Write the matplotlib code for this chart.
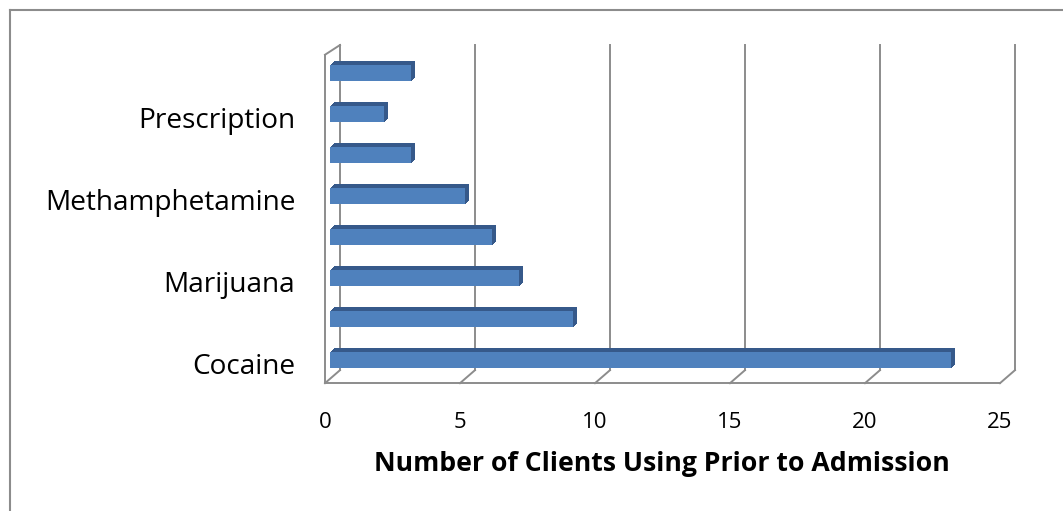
import numpy as np
import matplotlib
matplotlib.use("Agg")
import matplotlib.pyplot as plt
from matplotlib.transforms import offset_copy, ScaledTranslation
from matplotlib.lines import Line2D

# data, bottom to top (only every second category name is printed in the chart)
categories = ["Cocaine", "", "Marijuana", "", "Methamphetamine", "", "Prescription", ""]
clients = [23, 9, 7, 6, 5, 3, 2, 3]
xticks = [0, 5, 10, 15, 20, 25]
xlabel = "Number of Clients Using Prior to Admission"

plt.rcParams['font.family'] = ['Open Sans', 'DejaVu Sans']

fig = plt.figure(figsize=(10.63, 5.11), dpi=100)
W, H = 1063, 511
# axes = plane in which the bars' front faces sit
ax = fig.add_axes([330 / W, (H - 401) / H, 675 / W, 369 / H])
ax.set_xlim(0, 25)
ax.set_ylim(-1, 8)
for s in ax.spines.values():
    s.set_visible(False)

front = offset_copy(ax.transData, fig, x=-5, y=-4.3, units='dots')
back = offset_copy(ax.transData, fig, x=10, y=8.7, units='dots')
floor, top, top_front = -0.46, 7.47, 7.55
grey = "#8c8c8c"

# back wall gridlines
for v in xticks:
    ax.plot([v, v], [floor, top], color=grey, lw=1.4, transform=back, zorder=1, clip_on=False)
# floor: front edge + diagonal ticks
ax.plot([0, 25], [floor, floor], color=grey, lw=1.4, transform=front, zorder=1, clip_on=False)
for v in xticks:
    p1 = back.transform((v, floor))
    p2 = front.transform((v, floor))
    fig.add_artist(Line2D([p1[0] / W, p2[0] / W], [p1[1] / H, p2[1] / H], color=grey, lw=1.4, zorder=1))
# left wall front edge + top diagonal
ax.plot([0, 0], [floor, top_front], color=grey, lw=1.4, transform=front, zorder=1, clip_on=False)
p1 = front.transform((0, top_front))
p2 = back.transform((0, top))
fig.add_artist(Line2D([p1[0] / W, p2[0] / W], [p1[1] / H, p2[1] / H], color=grey, lw=1.4, zorder=1))

# bars: depth faces swept behind the front face
y = np.arange(len(clients))
for k in np.linspace(4, 0.5, 8):
    tr = offset_copy(ax.transData, fig, x=k, y=k * 0.85, units='dots')
    ax.barh(y, clients, height=0.4, color="#36598a", transform=tr, zorder=2)
ax.barh(y, clients, height=0.4, color="#4f81bd", zorder=3)

ax.set_yticks(y)
ax.set_yticklabels(categories, fontsize=20.2)
ax.tick_params(axis='y', length=0, pad=25)
for lbl in ax.get_yticklabels():
    lbl.set_transform(lbl.get_transform() + ScaledTranslation(0, -3.5 / 100, fig.dpi_scale_trans))

ax.set_xticks(xticks)
ax.set_xticklabels([str(t) for t in xticks], fontsize=16)
ax.tick_params(axis='x', length=0, pad=8)
for lbl in ax.get_xticklabels():
    lbl.set_transform(lbl.get_transform() + ScaledTranslation(-5 / 100, 0, fig.dpi_scale_trans))
ax.set_xlabel(xlabel, fontsize=19.2, fontweight='bold')
ax.xaxis.label.set_va('center')
ax.xaxis.set_label_coords(662 / W, (H - 464) / H, transform=fig.transFigure)

# chart area border (top and left only visible)
fig.add_artist(Line2D([9.5 / W, 1.0], [1 - 10 / H, 1 - 10 / H], color=grey, lw=1.5))
fig.add_artist(Line2D([9.5 / W, 9.5 / W], [0, 1 - 10 / H], color=grey, lw=1.5))

fig.savefig("out.png", dpi=100)
